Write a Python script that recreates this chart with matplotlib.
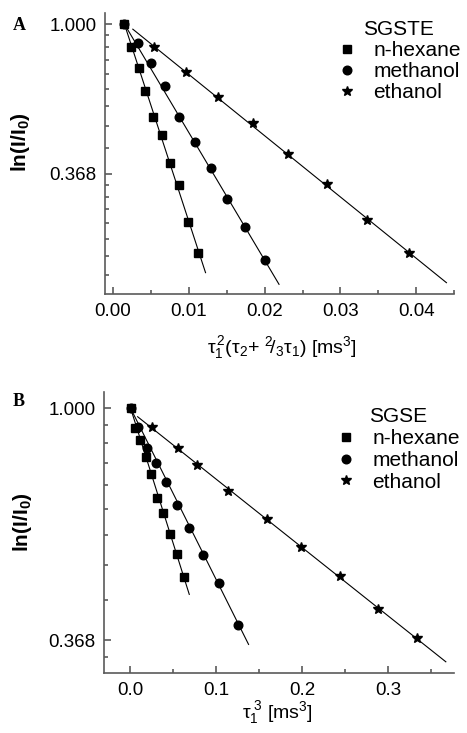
import numpy as np
import matplotlib
matplotlib.use('Agg')
import matplotlib.pyplot as plt
from matplotlib.ticker import FixedLocator, NullFormatter

plt.rcParams['font.family'] = ['Liberation Sans', 'DejaVu Sans']
plt.rcParams['mathtext.fontset'] = 'custom'
plt.rcParams['mathtext.rm'] = 'Liberation Sans'
plt.rcParams['mathtext.it'] = 'Liberation Sans:italic'
plt.rcParams['mathtext.bf'] = 'Liberation Sans:bold'
plt.rcParams['mathtext.default'] = 'regular'

# panel A (SGSTE): x = tau1^2 (tau2 + 2/3 tau1), y = ln(I/I0)
a_hex_x = [0.0015, 0.0024, 0.0034, 0.0042, 0.0053, 0.0064, 0.0075, 0.0087, 0.0099, 0.0112]
a_hex_ln = [0, -0.154, -0.292, -0.445, -0.617, -0.739, -0.926, -1.071, -1.323, -1.530]
a_meth_x = [0.0015, 0.0033, 0.0050, 0.0068, 0.0087, 0.0108, 0.0129, 0.0150, 0.0174, 0.0200]
a_meth_ln = [0, -0.127, -0.256, -0.414, -0.617, -0.786, -0.958, -1.169, -1.354, -1.577]
a_eth_x = [0.0054, 0.0096, 0.0139, 0.0184, 0.0231, 0.0282, 0.0335, 0.0391]
a_eth_ln = [-0.154, -0.318, -0.486, -0.659, -0.864, -1.067, -1.305, -1.530]
a_fit_hex = ([0.0015, 0.0122], [0, -1.659])
a_fit_meth = ([0.0015, 0.0219], [0, -1.737])
a_fit_eth = ([0.0026, 0.0440], [-0.033, -1.726])

# panel B (SGSE): x = tau1^3
b_hex_x = [0.0008, 0.0058, 0.0116, 0.0182, 0.0240, 0.0310, 0.0383, 0.0461, 0.0550, 0.0623]
b_hex_ln = [0, -0.083, -0.137, -0.212, -0.285, -0.386, -0.450, -0.544, -0.630, -0.727]
b_meth_x = [0.0008, 0.0097, 0.0194, 0.0302, 0.0418, 0.0550, 0.0685, 0.0852, 0.1034, 0.1254]
b_meth_ln = [0, -0.079, -0.173, -0.237, -0.318, -0.417, -0.518, -0.633, -0.753, -0.935]
b_eth_x = [0.0259, 0.0554, 0.0782, 0.1142, 0.1587, 0.1986, 0.2439, 0.2877, 0.3337]
b_eth_ln = [-0.079, -0.170, -0.245, -0.357, -0.476, -0.597, -0.724, -0.868, -0.993]
b_fit_hex = ([0.0008, 0.0689], [0, -0.803])
b_fit_meth = ([0.0008, 0.1378], [0, -1.019])
b_fit_eth = ([0.0089, 0.367], [-0.036, -1.094])

solvents = ['n-hexane', 'methanol', 'ethanol']
y_ticks = [np.exp(-1), 1.0]
y_ticklabels = ['0.368', '1.000']

axcol = '#5a5a5a'

# Origin style minor ticks on the ln axis: 9 linear steps between e^-n and e^-(n-1)
minor_y = [np.exp(-n) * (1 + j * (np.e - 1) / 9) for n in range(1, 4) for j in range(1, 9)]


def draw(ax, pts, fits, title, xlim, ylim, xmajor, xfmt, xlabel, xl_pos, yl_pos,
         leg_anchor, leg_space):
    for fx, fln in fits:
        ax.plot(fx, np.exp(fln), color='black', lw=0.8, zorder=2)
    markers = [('s', 5.4), ('o', 6.2), ('*', 7.5)]
    for (x, ln), name, (m, ms) in zip(pts, solvents, markers):
        ax.plot(x, np.exp(ln), ls='none', marker=m, ms=ms, color='black',
                label=name, zorder=3)
    ax.set_yscale('log', base=np.e)
    ax.set_xlim(*xlim)
    ax.set_ylim(*ylim)
    ax.yaxis.set_major_locator(FixedLocator(y_ticks))
    ax.set_yticklabels(y_ticklabels)
    ax.yaxis.set_minor_locator(FixedLocator(minor_y))
    ax.yaxis.set_minor_formatter(NullFormatter())
    ax.set_xticks(xmajor)
    ax.set_xticklabels([xfmt.format(v) for v in xmajor])
    ax.set_xticks([v + (xmajor[1] - xmajor[0]) / 2 for v in xmajor], minor=True)
    for s in ['top', 'right']:
        ax.spines[s].set_visible(False)
    for s in ['left', 'bottom']:
        ax.spines[s].set_color(axcol)
        ax.spines[s].set_linewidth(1.2)
    ax.tick_params(which='both', direction='in', color=axcol, width=1.2, labelsize=13.5)
    ax.tick_params(which='major', length=5, pad=6.5)
    ax.tick_params(which='minor', length=3.2)
    ax.set_xlabel(xlabel, fontsize=14)
    ax.xaxis.set_label_coords(*xl_pos)
    ax.set_ylabel(r'ln(I/I$_\mathbf{0}$)', fontsize=15, fontweight='bold')
    ax.yaxis.set_label_coords(*yl_pos)
    ax.legend(title=title, loc='upper left', bbox_to_anchor=leg_anchor,
              bbox_transform=fig.transFigure, frameon=False, fontsize=15,
              title_fontsize=15, handlelength=1.0, handletextpad=0.75,
              labelspacing=leg_space, borderaxespad=0, borderpad=0)


fig = plt.figure(figsize=(4.67, 7.33), dpi=100)
ax_a = fig.add_axes([0.2255, 0.5985, 0.7467, 0.3834])
ax_b = fig.add_axes([0.2234, 0.0823, 0.7484, 0.3834])

draw(ax_a,
     [(a_hex_x, a_hex_ln), (a_meth_x, a_meth_ln), (a_eth_x, a_eth_ln)],
     [a_fit_hex, a_fit_meth, a_fit_eth],
     'SGSTE', (-0.00103, 0.04396), (0.1647, 1.076),
     [0.0, 0.01, 0.02, 0.03, 0.04], '{:.2f}',
     r'$\tau_1^{\,2}(\tau_2{+}\ {}^{2}\!/_{3}\tau_1)$ [ms$^3$]',
     (0.507, -0.14), (-0.21, 0.54),
     (337 / 467, 1 - 20 / 733), 0.1)
draw(ax_b,
     [(b_hex_x, b_hex_ln), (b_meth_x, b_meth_ln), (b_eth_x, b_eth_ln)],
     [b_fit_hex, b_fit_meth, b_fit_eth],
     'SGSE', (-0.0298, 0.3763), (0.3195, 1.075),
     [0.0, 0.1, 0.2, 0.3], '{:.1f}',
     r'$\tau_1^{\ 3}$ [ms$^3$]',
     (0.494, -0.095), (-0.2, 0.535),
     (336 / 467, 1 - 407 / 733), 0.14)

fig.text(13 / 467, 1 - 30 / 733, 'A', family='Liberation Serif', fontweight='bold', fontsize=13)
fig.text(13 / 467, 1 - 406 / 733, 'B', family='Liberation Serif', fontweight='bold', fontsize=13)

fig.savefig('out.png', dpi=100)
